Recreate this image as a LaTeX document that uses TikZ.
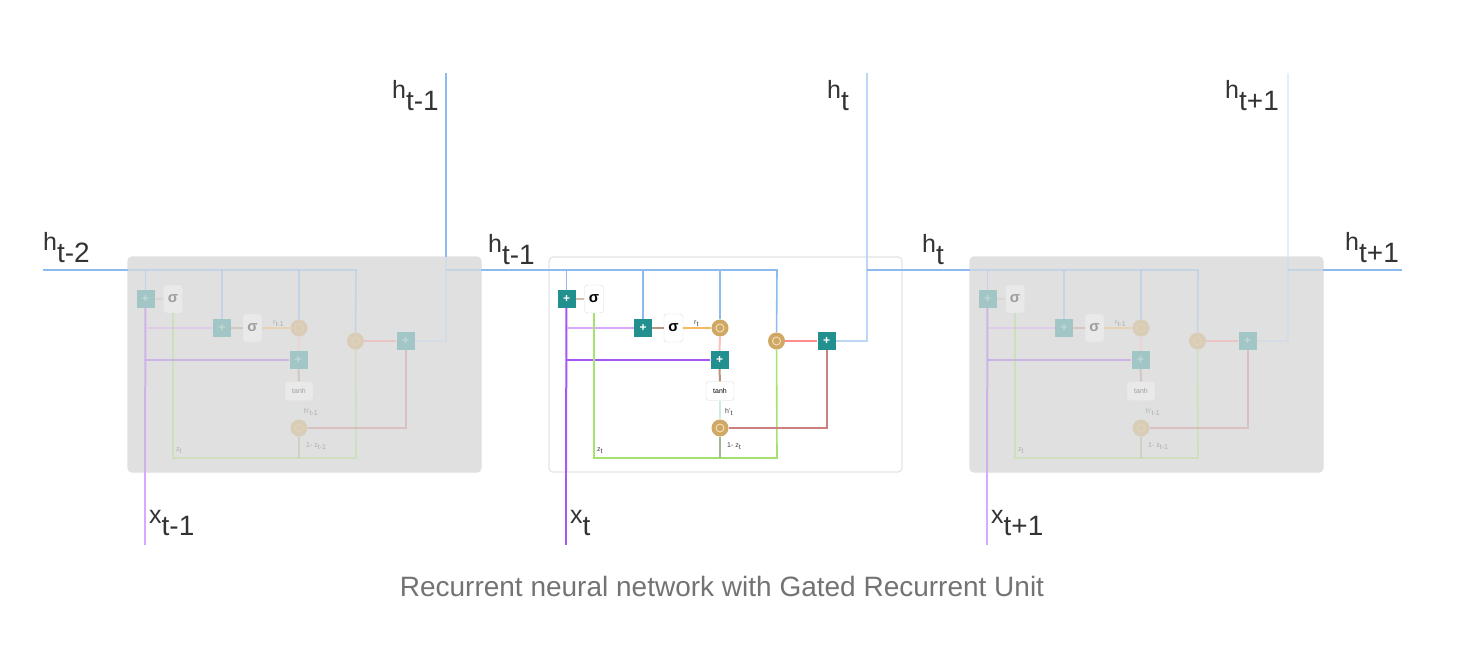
\documentclass[tikz,border=0pt]{standalone}
\usepackage{fontspec}
\setmainfont{Liberation Sans}
\definecolor{hBlue}{HTML}{8DBBF0}
\definecolor{hPale}{HTML}{BCD6F5}
\definecolor{xPurple}{HTML}{A855F7}
\definecolor{xPale}{HTML}{D9A8FF}
\definecolor{gateTeal}{HTML}{22908F}
\definecolor{mulTan}{HTML}{D0A864}
\definecolor{mulRing}{HTML}{F0DDB8}
\definecolor{zGreen}{HTML}{A6E36E}
\definecolor{linkBrown}{HTML}{B8947A}
\definecolor{rOrange}{HTML}{F5B95F}
\definecolor{boxGray}{HTML}{E0E0E0}
\definecolor{boxEdge}{HTML}{E4E4E4}
\newcommand{\hLab}[2]{#1\raisebox{-12pt}{\fontsize{28}{28}\selectfont #2}}
\newcommand{\tinyLab}[2]{#1\raisebox{-2pt}{#2}}
\tikzset{
  gatebox/.style={fill=gateTeal, minimum size=18pt, inner sep=0pt,
    text=white, font=\fontsize{12}{12}\selectfont\bfseries},
  funbox/.style={draw=black!14, fill=white, rounded corners=3pt, inner sep=0pt,
    minimum width=19pt, minimum height=28pt, font=\fontsize{15}{15}\selectfont\bfseries},
  mulnode/.style={circle, fill=mulTan, minimum size=17pt, inner sep=0pt,
    path picture={\draw[mulRing, line width=1pt] (path picture bounding box.center) circle (4pt);}},
  hline/.style={hBlue, line width=1.6pt},
  tinytext/.style={inner sep=0pt, anchor=base west, font=\fontsize{7}{7}\selectfont, text=black!75},
  biglabel/.style={inner sep=0pt, anchor=base west, font=\fontsize{25}{25}\selectfont, text=black!80}
}
\begin{document}
\begin{tikzpicture}[x=1pt, y=-1pt]
  \useasboundingbox (0, 0) rectangle (1475, 645);
  %
  \foreach \i/\dx/\fade/\boxFill/\boxLine/\tsub/\upColor/\xColor in {
      p/-421/0.32/boxGray/boxGray/t-1/hBlue/xPale,
      c/0/1/white/boxEdge/t/hPale/xPurple,
      n/421/0.32/boxGray/boxGray/t-1/hBlue!25/xPale} {
    \begin{scope}[xshift=\dx pt]
      \node[draw=\boxLine, fill=\boxFill, rounded corners=4pt, line width=1.2pt,
        minimum width=353pt, minimum height=215pt, inner sep=0pt] at (725.5, 364.5) (box\i) {};
      %
      \coordinate (hWest\i) at (549, 270);
      \coordinate (hEast\i) at (902, 270);
      \coordinate (hCorner\i) at (777, 270);
      \coordinate (hTee\i) at (867, 270);
      \coordinate (hTop\i) at (867, 257);
      \coordinate (hSky\i) at (867, 73);
      \coordinate (xBox\i) at (566, 472);
      \coordinate (xFoot\i) at (566, 545);
      \coordinate (zCorner\i) at (777, 458);
      %
      \begin{scope}[opacity=\fade]
        \node[gatebox] at (566.5, 299) (plusUpdate\i) {+};
        \node[funbox] at (594, 299) (sigmaUpdate\i) {σ};
        \node[gatebox] at (643, 328) (plusReset\i) {+};
        \node[funbox] at (673.5, 328) (sigmaReset\i) {σ};
        \node[mulnode] at (720, 328) (mulReset\i) {};
        \node[gatebox] at (719.5, 360) (plusMix\i) {+};
        \node[funbox, minimum width=28pt, minimum height=19pt,
          font=\fontsize{7}{7}\selectfont] at (720, 391) (tanh\i) {tanh};
        \node[mulnode] at (720, 428) (mulNew\i) {};
        \node[mulnode] at (776.5, 341) (mulOld\i) {};
        \node[gatebox] at (826.5, 341) (plusOut\i) {+};
        %
        \draw[hline] (hWest\i) -- (hCorner\i) -- (mulOld\i);
        \draw[hline] (plusUpdate\i) -- (plusUpdate\i |- hWest\i);
        \draw[hline] (plusReset\i) -- (plusReset\i |- hWest\i);
        \draw[hline] (mulReset\i) -- (mulReset\i |- hWest\i);
        \draw[hPale, line width=1.8pt] (plusOut\i) -| (hTop\i);
        \draw[hline] (hTee\i) -- (hEast\i);
        %
        \draw[xPurple, line width=2pt] (plusUpdate\i) -- (xBox\i);
        \draw[xPale, line width=1.5pt] (plusReset\i) -- (plusUpdate\i |- plusReset\i);
        \draw[xPurple, line width=1.8pt] (plusMix\i) -- (plusUpdate\i |- plusMix\i);
        %
        \draw[linkBrown!60, line width=1.2pt] (plusUpdate\i) -- (sigmaUpdate\i);
        \draw[linkBrown, line width=1.6pt] (plusReset\i) -- (sigmaReset\i);
        \draw[rOrange, line width=1.5pt] (sigmaReset\i) -- (mulReset\i);
        \draw[pink, line width=2pt] (mulReset\i) -- (plusMix\i);
        \draw[linkBrown, line width=2pt] (plusMix\i) -- (tanh\i);
        \draw[cyan!25!green!20, line width=2pt] (tanh\i) -- (mulNew\i);
        \draw[zGreen, line width=1.6pt] (sigmaUpdate\i) |- (zCorner\i) -- (mulOld\i);
        \draw[zGreen!60!black!60, line width=1.6pt] (mulNew\i) -- (mulNew\i |- zCorner\i);
        \draw[red!45, line width=2.5pt] (mulOld\i) -- (plusOut\i);
        \draw[red!60!black!50, line width=2pt] (mulNew\i) -| (plusOut\i);
        %
        \node[tinytext] at (694, 324) (rText\i) {\tinyLab{r}{\tsub}};
        \node[tinytext] at (597, 451) (zText\i) {\tinyLab{z}{t}};
        \node[tinytext] at (725, 413) (hText\i) {\tinyLab{h'}{\tsub}};
        \node[tinytext] at (727, 447) (oneText\i) {1- \tinyLab{z}{\tsub}};
      \end{scope}
      %
      \draw[\upColor, line width=1.6pt] (hTop\i) -- (hSky\i);
      \draw[\xColor, line width=1.8pt] (xBox\i) -- (xFoot\i);
    \end{scope}
  }
  %
  \coordinate (hStart) at (43, 270);
  \coordinate (hEnd) at (1402, 270);
  \draw[hline] (hStart) -- (hWestp);
  \draw[hline] (hEastp) -- (hWestc);
  \draw[hline] (hEastc) -- (hWestn);
  \draw[hline] (hEastn) -- (hEnd);
  %
  \node[biglabel] at (43, 250) (hIn) {\hLab{h}{t-2}};
  \node[biglabel] at (392, 98) (hUpP) {\hLab{h}{t-1}};
  \node[biglabel] at (488, 252) (hLinkP) {\hLab{h}{t-1}};
  \node[biglabel] at (827, 98) (hUpC) {\hLab{h}{t}};
  \node[biglabel] at (922, 252) (hLinkC) {\hLab{h}{t}};
  \node[biglabel] at (1225, 98) (hUpN) {\hLab{h}{t+1}};
  \node[biglabel] at (1345, 250) (hOut) {\hLab{h}{t+1}};
  \node[biglabel] at (149, 523) (xLabP) {\hLab{x}{t-1}};
  \node[biglabel] at (570, 523) (xLabC) {\hLab{x}{t}};
  \node[biglabel] at (991, 523) (xLabN) {\hLab{x}{t+1}};
  %
  \node[inner sep=0pt, text=black!55, font=\fontsize{28}{28}\selectfont] at (722, 586) (caption)
    {Recurrent neural network with Gated Recurrent Unit};
\end{tikzpicture}
\end{document}
